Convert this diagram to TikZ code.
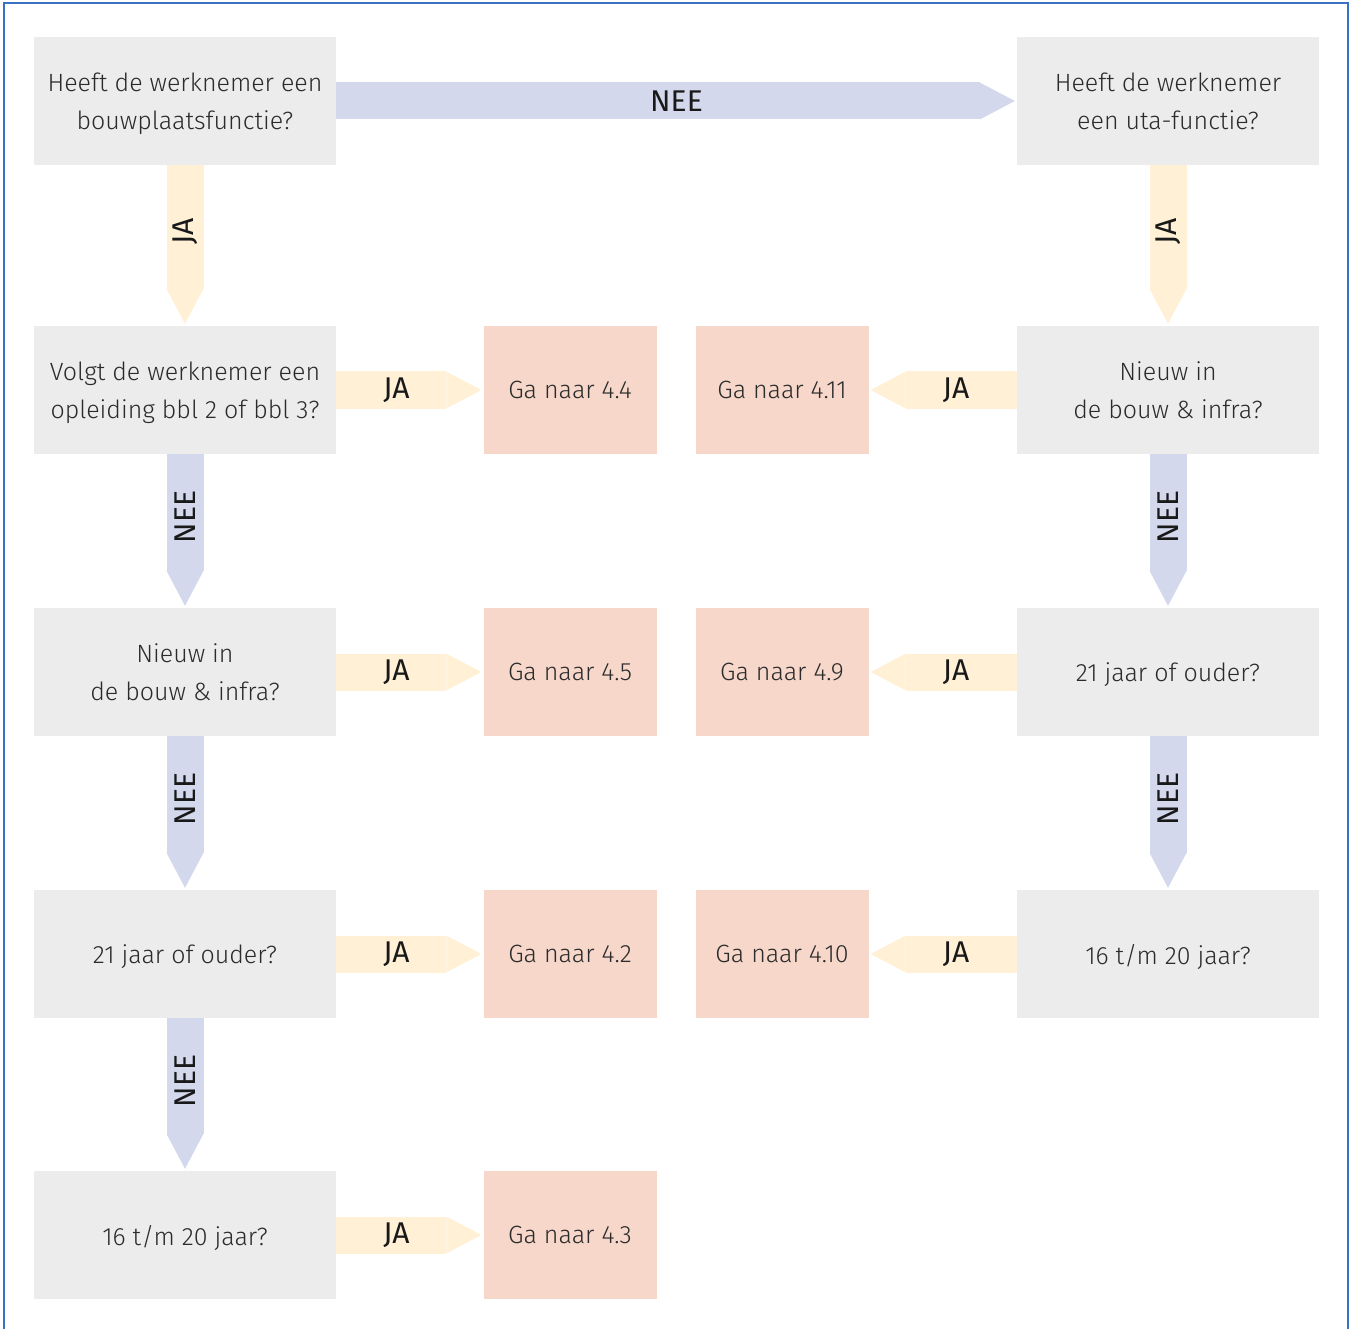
\documentclass[tikz,border=0pt]{standalone}
\usepackage{fontspec}
\IfFontExistsTF{Fira Sans Light}
  {\setmainfont{Fira Sans Light}}
  {\setmainfont{Fira Sans}}
\newfontfamily\labelfont{Fira Sans}
\usetikzlibrary{arrows.meta}

\definecolor{vraaggrijs}{HTML}{ECECEC}
\definecolor{doelroze}{HTML}{F6D7CA}
\definecolor{jageel}{HTML}{FFF0D6}
\definecolor{neeblauw}{HTML}{D3D8ED}
\definecolor{kader}{HTML}{3A72C2}
\definecolor{tekst}{HTML}{2B2B2B}

\tikzset{
    vraag/.style={fill=vraaggrijs, text=tekst, minimum width=302pt, minimum height=128pt,
        inner sep=0pt, align=center, text depth=0pt, font=\fontsize{25pt}{38pt}\selectfont},
    doel/.style={fill=doelroze, text=tekst, minimum width=173pt, minimum height=128pt,
        inner sep=0pt, text depth=0pt, font=\fontsize{25pt}{38pt}\selectfont},
    pijl/.style={line width=37pt, shorten >=2pt,
        -{Triangle[length=35pt, width=0pt 1, line width=0pt]}},
    ja/.style={pijl, draw=jageel},
    nee/.style={pijl, draw=neeblauw},
    pijltekst/.style={font=\labelfont\fontsize{30pt}{30pt}\selectfont, text=black!90,
        inner sep=0pt, pos=0.41},
    staand/.style={pijltekst, rotate=90}
}

\begin{document}
\begin{tikzpicture}[x=1pt, y=-1pt]
    \useasboundingbox (0,0) rectangle (1349,1329);
    \clip (0,0) rectangle (1349,1329);
    \draw[kader, line width=1.5pt] (4,3) rectangle (1348,1360);

    % linker kolom
    \node[vraag] (bouw) at (185,101) {Heeft de werknemer een\\bouwplaatsfunctie?};
    \node[vraag] (bbl) at (185,390) {Volgt de werknemer een\\opleiding bbl 2 of bbl 3?};
    \node[vraag] (nieuwL) at (185,672) {Nieuw in\\de bouw \& infra?};
    \node[vraag] (oudL) at (185,954) {21 jaar of ouder?};
    \node[vraag] (jongL) at (185,1235) {16 t/m 20 jaar?};

    % rechter kolom
    \node[vraag] (uta) at (1168,101) {Heeft de werknemer\\een uta-functie?};
    \node[vraag] (nieuwR) at (1168,390) {Nieuw in\\de bouw \& infra?};
    \node[vraag] (oudR) at (1168,672) {21 jaar of ouder?};
    \node[vraag] (jongR) at (1168,954) {16 t/m 20 jaar?};

    % verwijzingen
    \node[doel] (naar44) at (570,390) {Ga naar 4.4};
    \node[doel] (naar45) at (570,672) {Ga naar 4.5};
    \node[doel] (naar42) at (570,954) {Ga naar 4.2};
    \node[doel] (naar43) at (570,1235) {Ga naar 4.3};
    \node[doel] (naar411) at (782,390) {Ga naar 4.11};
    \node[doel] (naar49) at (782,672) {Ga naar 4.9};
    \node[doel] (naar410) at (782,954) {Ga naar 4.10};

    \draw[nee] (bouw) -- node[pijltekst, pos=0.5] {NEE} (uta);

    \draw[ja] (bouw) -- node[staand] {JA} (bbl);
    \draw[nee] (bbl) -- node[staand] {NEE} (nieuwL);
    \draw[nee] (nieuwL) -- node[staand] {NEE} (oudL);
    \draw[nee] (oudL) -- node[staand] {NEE} (jongL);

    \draw[ja] (uta) -- node[staand] {JA} (nieuwR);
    \draw[nee] (nieuwR) -- node[staand] {NEE} (oudR);
    \draw[nee] (oudR) -- node[staand] {NEE} (jongR);

    \draw[ja] (bbl) -- node[pijltekst] {JA} (naar44);
    \draw[ja] (nieuwL) -- node[pijltekst] {JA} (naar45);
    \draw[ja] (oudL) -- node[pijltekst] {JA} (naar42);
    \draw[ja] (jongL) -- node[pijltekst] {JA} (naar43);

    \draw[ja] (nieuwR) -- node[pijltekst] {JA} (naar411);
    \draw[ja] (oudR) -- node[pijltekst] {JA} (naar49);
    \draw[ja] (jongR) -- node[pijltekst] {JA} (naar410);
\end{tikzpicture}
\end{document}
